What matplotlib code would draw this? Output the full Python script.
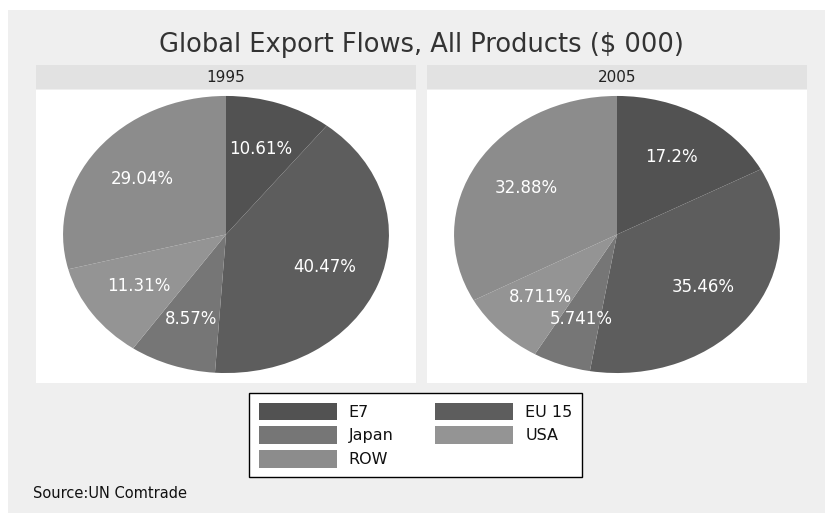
import matplotlib
matplotlib.use("Agg")
import matplotlib.pyplot as plt
from matplotlib.patches import Rectangle

plt.rcParams['font.family'] = ['DejaVu Sans']

# Data
regions = ["E7", "EU 15", "Japan", "USA", "ROW"]
shares_1995 = [10.61, 40.47, 8.57, 11.31, 29.04]
shares_2005 = [17.2, 35.46, 5.741, 8.711, 32.88]
years = ["1995", "2005"]
colors = ["#525252", "#5d5d5d", "#767676", "#949494", "#8c8c8c"]

W, H = 825, 516
fig = plt.figure(figsize=(W / 100, H / 100), dpi=100, facecolor="white")


def fx(x):
    return x / W


def fy(y):
    return 1 - y / H


# outer graph region
fig.patches.append(Rectangle((fx(8), fy(513)), fx(825) - fx(8), fy(10) - fy(513),
                             transform=fig.transFigure, facecolor="#efefef",
                             edgecolor="none", zorder=-10))

fig.text(fx(421), fy(45), "Global Export Flows, All Products ($ 000)",
         ha="center", va="center", fontsize=18.5, color="#333333")

panels = [(36, 416), (427, 807)]
strip_top, strip_bot = 65, 89
panel_top, panel_bot = 90, 383

wedges_ref = None
for (x0, x1), year, vals in zip(panels, years, [shares_1995, shares_2005]):
    # title strip
    fig.patches.append(Rectangle((fx(x0), fy(strip_bot)), fx(x1) - fx(x0),
                                 fy(strip_top) - fy(strip_bot),
                                 transform=fig.transFigure, facecolor="#e2e2e2",
                                 edgecolor="none", zorder=-5))
    fig.text(fx((x0 + x1) / 2), fy((strip_top + strip_bot) / 2), year,
             ha="center", va="center", fontsize=11, color="#222222")

    ax = fig.add_axes([fx(x0), fy(panel_bot), fx(x1) - fx(x0),
                       fy(panel_top) - fy(panel_bot)])
    ax.set_facecolor("white")
    labels = [f"{v:g}%" for v in vals]
    wedges, texts = ax.pie(vals, colors=colors, startangle=90, counterclock=False,
                           labels=labels, labeldistance=0.65,
                           wedgeprops=dict(linewidth=0),
                           textprops=dict(color="white", fontsize=12),
                           frame=True)
    for t in texts:
        t.set_ha("center")
        t.set_va("center")
    ax.set_aspect("auto")
    ax.set_xlim(-1.166, 1.166)
    ax.set_ylim(-1.072, 1.043)
    ax.set_xticks([])
    ax.set_yticks([])
    for s in ax.spines.values():
        s.set_visible(False)
    wedges_ref = wedges

# legend, filled row-wise: E7 EU15 / Japan USA / ROW
order = [0, 2, 4, 1, 3]
leg = fig.legend([wedges_ref[i] for i in order], [regions[i] for i in order],
                 ncol=2, loc="upper left",
                 bbox_to_anchor=(fx(249), fy(393)),
                 fontsize=11.5, frameon=True, fancybox=False, framealpha=1,
                 handlelength=4.9, handleheight=1.3, handletextpad=0.75,
                 labelspacing=0.4, columnspacing=2.6, borderpad=0.6,
                 borderaxespad=0)
leg.get_frame().set_edgecolor("black")
leg.get_frame().set_linewidth(1.0)
leg.get_frame().set_facecolor("white")
for t in leg.get_texts():
    t.set_color("#111111")

fig.text(fx(33), fy(493), "Source:UN Comtrade", ha="left", va="center",
         fontsize=10.5, color="#111111")

fig.savefig("out.png", dpi=100, facecolor="white")
